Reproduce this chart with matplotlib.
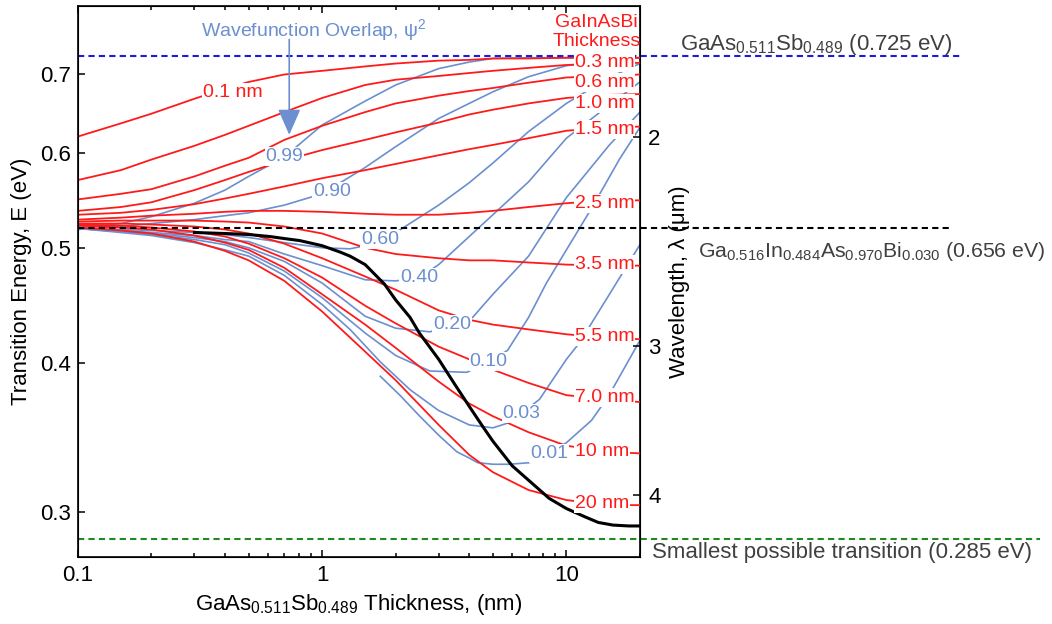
import matplotlib
matplotlib.use("Agg")
import matplotlib.pyplot as plt
from matplotlib.ticker import FixedLocator, NullLocator, LogLocator, NullFormatter

plt.rcParams['font.family'] = ['Liberation Sans', 'DejaVu Sans']
plt.rcParams['mathtext.fontset'] = 'custom'
plt.rcParams['mathtext.rm'] = 'Liberation Sans'
plt.rcParams['mathtext.it'] = 'Liberation Sans:italic'
plt.rcParams['mathtext.bf'] = 'Liberation Sans:bold'

# -------------------------
# Transition energy (eV) vs GaAsSb thickness (nm)
# -------------------------
x_grid = [0.1, 0.15, 0.2, 0.3, 0.4, 0.5, 0.7, 1, 1.5, 2, 3, 4, 5, 7, 10, 15, 20]

# constant GaInAsBi thickness (red)
thickness_labels = ['0.1 nm', '0.3 nm', '0.6 nm', '1.0 nm', '1.5 nm', '2.5 nm',
                    '3.5 nm', '5.5 nm', '7.0 nm', '10 nm', '20 nm']
e_t01 = [0.620, 0.636, 0.648, 0.667, 0.680, 0.689, 0.699, 0.704, 0.710, 0.714, 0.718, 0.719, 0.721, 0.721, 0.722, 0.722, 0.722]
e_t03 = [0.570, 0.581, 0.593, 0.609, 0.622, 0.633, 0.650, 0.668, 0.685, 0.692, 0.697, 0.701, 0.704, 0.708, 0.712, 0.714, 0.715]
e_t06 = [0.549, 0.555, 0.560, 0.574, 0.586, 0.595, 0.616, 0.633, 0.650, 0.661, 0.671, 0.677, 0.681, 0.688, 0.695, 0.697, 0.699]
e_t10 = [0.537, 0.541, 0.546, 0.559, 0.570, 0.579, 0.592, 0.604, 0.616, 0.625, 0.637, 0.647, 0.653, 0.661, 0.668, 0.672, 0.673]
e_t15 = [0.533, 0.535, 0.538, 0.544, 0.550, 0.555, 0.563, 0.572, 0.581, 0.588, 0.598, 0.605, 0.610, 0.618, 0.627, 0.631, 0.632]
e_t25 = [0.528, 0.530, 0.532, 0.534, 0.536, 0.537, 0.537, 0.536, 0.534, 0.533, 0.533, 0.535, 0.537, 0.541, 0.545, 0.548, 0.548]
e_t35 = [0.526, 0.527, 0.527, 0.527, 0.526, 0.525, 0.521, 0.514, 0.500, 0.494, 0.490, 0.488, 0.488, 0.486, 0.484, 0.483, 0.483]
e_t55 = [0.524, 0.524, 0.523, 0.521, 0.518, 0.514, 0.504, 0.490, 0.473, 0.461, 0.443, 0.435, 0.431, 0.427, 0.423, 0.420, 0.419]
e_t70 = [0.523, 0.522, 0.520, 0.516, 0.511, 0.504, 0.490, 0.472, 0.447, 0.432, 0.413, 0.403, 0.395, 0.385, 0.376, 0.373, 0.371]
e_t100 = [0.522, 0.520, 0.518, 0.512, 0.505, 0.498, 0.481, 0.457, 0.431, 0.412, 0.386, 0.370, 0.361, 0.350, 0.341, 0.337, 0.336]
e_t200 = [0.520, 0.517, 0.514, 0.506, 0.497, 0.488, 0.469, 0.442, 0.409, 0.387, 0.355, 0.335, 0.324, 0.313, 0.307, 0.304, 0.304]
thickness_curves = [e_t01, e_t03, e_t06, e_t10, e_t15, e_t25, e_t35, e_t55, e_t70, e_t100, e_t200]
# where each thickness label sits (eV); the first one sits inside the plot
thickness_label_e = [0.675, 0.716, 0.688, 0.661, 0.628, 0.545, 0.484, 0.421, 0.374, 0.3375, 0.305]

# wavefunction overlap contours (blue)
x_o99 = x_grid
e_o99 = [0.520, 0.524, 0.531, 0.545, 0.559, 0.574, 0.596, 0.634, 0.664, 0.685, 0.707, 0.716, 0.721, 0.722, 0.722, 0.722, 0.722]
x_o90 = x_grid
e_o90 = [0.518, 0.521, 0.524, 0.528, 0.532, 0.535, 0.543, 0.555, 0.584, 0.608, 0.642, 0.661, 0.676, 0.696, 0.711, 0.719, 0.722]
x_o60 = [0.1, 0.15, 0.2, 0.3, 0.4, 0.5, 0.7, 1, 1.3, 1.5, 1.73, 2, 3, 4, 5, 7, 10, 15, 20]
e_o60 = [0.519, 0.518, 0.517, 0.515, 0.513, 0.510, 0.505, 0.500, 0.499, 0.502, 0.508, 0.515, 0.543, 0.567, 0.589, 0.626, 0.661, 0.695, 0.714]
x_o40 = [0.1, 0.15, 0.2, 0.3, 0.4, 0.5, 0.7, 1, 1.5, 2, 2.5, 3, 4, 5, 7, 10, 15, 20]
e_o40 = [0.519, 0.517, 0.515, 0.512, 0.508, 0.506, 0.494, 0.483, 0.470, 0.469, 0.472, 0.484, 0.511, 0.533, 0.568, 0.618, 0.659, 0.689]
x_o20 = [0.1, 0.15, 0.2, 0.3, 0.4, 0.5, 0.7, 1, 1.5, 2, 2.76, 3.39, 4.13, 5, 7, 10, 15, 20]
e_o20 = [0.519, 0.516, 0.514, 0.510, 0.506, 0.500, 0.487, 0.467, 0.438, 0.428, 0.425, 0.431, 0.437, 0.457, 0.492, 0.551, 0.610, 0.650]
x_o10 = [0.1, 0.15, 0.2, 0.3, 0.4, 0.5, 0.7, 1, 1.5, 2, 2.76, 3.91, 4.8, 5.74, 7, 8.28, 10, 12.77, 16.46, 20]
e_o10 = [0.519, 0.516, 0.513, 0.508, 0.503, 0.495, 0.478, 0.454, 0.424, 0.406, 0.394, 0.393, 0.401, 0.410, 0.437, 0.467, 0.498, 0.541, 0.593, 0.631]
x_o03 = [0.1, 0.15, 0.2, 0.3, 0.4, 0.5, 0.7, 1, 1.3, 1.73, 2.29, 3, 4, 5, 5.69, 6.55, 7.76, 10, 11.3, 15, 20]
e_o03 = [0.519, 0.515, 0.512, 0.505, 0.498, 0.492, 0.474, 0.448, 0.427, 0.401, 0.380, 0.365, 0.355, 0.353, 0.356, 0.363, 0.373, 0.403, 0.416, 0.457, 0.503]
x_o01 = [1.73, 2.08, 2.51, 3, 3.56, 4, 4.33, 5, 5.85, 7.06, 8.52, 10, 12.65, 14.84, 20]
e_o01 = [0.390, 0.376, 0.361, 0.348, 0.337, 0.333, 0.330, 0.329, 0.329, 0.330, 0.336, 0.343, 0.358, 0.375, 0.418]
overlap_labels = ['0.99', '0.90', '0.60', '0.40', '0.20', '0.10', '0.03', '0.01']
overlap_x = [x_o99, x_o90, x_o60, x_o40, x_o20, x_o10, x_o03, x_o01]
overlap_e = [e_o99, e_o90, e_o60, e_o40, e_o20, e_o10, e_o03, e_o01]
overlap_label_x = [0.7, 1.1, 1.73, 2.5, 3.4, 4.8, 6.55, 8.5]
overlap_label_e = [0.596, 0.558, 0.508, 0.472, 0.431, 0.401, 0.363, 0.336]

# lowest transition (black)
x_min_tr = [0.3, 0.4, 0.5, 0.61, 0.7, 0.81, 1, 1.18, 1.3, 1.5, 1.8, 2, 2.29, 2.5, 3, 3.49,
            4, 4.54, 5, 6, 7, 8.5, 10, 12, 13.5, 15.5, 18, 20]
e_min_tr = [0.515, 0.514, 0.513, 0.511, 0.509, 0.507, 0.502, 0.496, 0.492, 0.484, 0.466, 0.452,
            0.437, 0.424, 0.403, 0.384, 0.368, 0.354, 0.344, 0.328, 0.319, 0.308, 0.302, 0.297,
            0.294, 0.2925, 0.292, 0.292]

# reference levels (eV)
gaassb_gap = 0.725
gainasbi_level = 0.519
smallest_tr = 0.285

wavelength_ticks = [2, 3, 4]  # um
hc = 1.2398  # eV um

red = '#ff1a1a'
blue = '#6b8fcf'
txt_grey = '#404040'

# -------------------------
# Figure
# -------------------------
fig = plt.figure(figsize=(10.52, 6.24), dpi=100)
ax = fig.add_axes([0.0741, 0.1074, 0.5342, 0.8830])
ax.set_xscale('log')
ax.set_yscale('log')
ax.set_xlim(0.1, 20)
ax.set_ylim(0.275, 0.798)

lbox = dict(boxstyle='square,pad=0.05', fc='white', ec='none')

for xs, es in zip(overlap_x, overlap_e):
    ax.plot(xs, es, color=blue, lw=1.2, zorder=2)
for es in thickness_curves:
    ax.plot(x_grid, es, color=red, lw=1.3, zorder=3)
ax.plot(x_min_tr, e_min_tr, color='black', lw=2.2, zorder=5)

# reference levels, drawn past the right edge
trans = ax.get_yaxis_transform()
ax.plot([0, 1.573], [gaassb_gap] * 2, transform=trans, clip_on=False,
        color='#1c1cd6', lw=1.5, ls=(0, (3, 2)), zorder=4)
ax.plot([0, 1.552], [gainasbi_level] * 2, transform=trans, clip_on=False,
        color='black', lw=1.5, ls=(0, (3, 2)), zorder=4)
ax.plot([0, 1.712], [smallest_tr] * 2, transform=trans, clip_on=False,
        color='#1f8a1f', lw=1.5, ls=(0, (3, 2)), zorder=4)

ax.text(1.071, 0.733, 'GaAs$_{0.511}$Sb$_{0.489}$ (0.725 eV)', transform=trans,
        fontsize=16, color=txt_grey, ha='left', va='baseline')
ax.text(1.103, 0.491, 'Ga$_{0.516}$In$_{0.484}$As$_{0.970}$Bi$_{0.030}$ (0.656 eV)',
        transform=trans, fontsize=15.3, color=txt_grey, ha='left', va='baseline')
ax.text(1.021, 0.2745, 'Smallest possible transition (0.285 eV)', transform=trans,
        fontsize=16, color=txt_grey, ha='left', va='baseline')

# inline labels
for lab, lx, le in zip(overlap_labels, overlap_label_x, overlap_label_e):
    ax.text(lx, le, lab, color=blue, fontsize=14, ha='center', va='center',
            bbox=lbox, zorder=6)
ax.text(0.43, thickness_label_e[0], thickness_labels[0], color=red, fontsize=14,
        ha='center', va='center', bbox=lbox, zorder=6)
for lab, le in zip(thickness_labels[1:], thickness_label_e[1:]):
    ax.text(10.8, le, lab, color=red, fontsize=14, ha='left', va='center',
            bbox=lbox, zorder=6)
ax.text(13.3, 0.759, 'GaInAsBi\nThickness', color=red, fontsize=14,
        ha='center', va='center', linespacing=1.1, zorder=6)

ax.text(0.318, 0.762, 'Wavefunction Overlap, ψ$^2$', color=blue, fontsize=14,
        ha='left', va='center', zorder=6)
ax.annotate('', xy=(0.733, 0.622), xytext=(0.733, 0.748),
            arrowprops=dict(arrowstyle='-|>,head_length=0.8,head_width=0.35',
                            color=blue, lw=1.2, mutation_scale=20, shrinkA=0, shrinkB=0),
            zorder=6)

# -------------------------
# Axes styling
# -------------------------
ax.xaxis.set_major_locator(FixedLocator([0.1, 1, 10]))
ax.set_xticklabels(['0.1', '1', '10'])
ax.xaxis.set_minor_locator(LogLocator(base=10, subs=range(2, 10)))
ax.xaxis.set_minor_formatter(NullFormatter())
ax.yaxis.set_major_locator(FixedLocator([0.3, 0.4, 0.5, 0.6, 0.7]))
ax.set_yticklabels(['0.3', '0.4', '0.5', '0.6', '0.7'])
ax.yaxis.set_minor_locator(NullLocator())
ax.tick_params(which='both', direction='in', top=True, right=False, labelsize=16, width=1.1)
ax.tick_params(which='major', length=5)
ax.tick_params(which='minor', length=3)
ax.tick_params(axis='y', pad=5)
ax.tick_params(axis='x', pad=6)
for sp in ax.spines.values():
    sp.set_linewidth(1.2)

ax.set_xlabel('GaAs$_{0.511}$Sb$_{0.489}$ Thickness, (nm)', fontsize=16, labelpad=4)
ax.set_ylabel('Transition Energy, E (eV)', fontsize=16, labelpad=6)

ax2 = ax.twinx()
ax2.set_yscale('log')
ax2.set_ylim(ax.get_ylim())
ax2.yaxis.set_major_locator(FixedLocator([hc / w for w in wavelength_ticks]))
ax2.set_yticklabels([str(w) for w in wavelength_ticks])
ax2.yaxis.set_minor_locator(NullLocator())
ax2.tick_params(direction='in', length=5, width=1.1, labelsize=16, pad=6)
ax2.set_ylabel('Wavelength, λ (μm)', fontsize=16, labelpad=6)

fig.savefig('out.png', dpi=100)
